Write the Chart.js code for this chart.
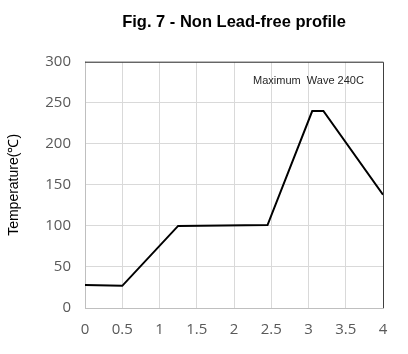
<!DOCTYPE html>
<html>
<head>
<meta charset="utf-8">
<style>
  html, body { margin: 0; padding: 0; background: #fff; }
  #wrap { width: 408px; height: 354px; }
</style>
<script src="https://cdn.jsdelivr.net/npm/chart.js@4/dist/chart.umd.min.js"></script>
</head>
<body>
<div id="wrap"><canvas id="profile"></canvas></div>
<script>
// profile points
const timeValues = [0, 0.5, 1.25, 2.45, 3.05, 3.2, 4];
const tempValues = [28, 27, 100, 101, 240, 240, 138];
const xTicks = [0, 0.5, 1, 1.5, 2, 2.5, 3, 3.5, 4];
const yTicks = [0, 50, 100, 150, 200, 250, 300];
const noteText = 'Maximum  Wave 240C';

const tickFont = { family: 'Open Sans', size: 15 };

// top + right frame lines and the note inside the plot
const framePlugin = {
    id: 'frame',
    afterDraw(chart) {
        const { ctx, chartArea, scales } = chart;
        ctx.save();
        ctx.strokeStyle = '#404040';
        ctx.lineWidth = 1;
        ctx.beginPath();
        ctx.moveTo(chartArea.left, chartArea.top + 0.5);
        ctx.lineTo(chartArea.right + 0.5, chartArea.top + 0.5);
        ctx.lineTo(chartArea.right + 0.5, chartArea.bottom);
        ctx.stroke();

        ctx.font = '11px "Liberation Sans"';
        ctx.fillStyle = '#262626';
        ctx.textAlign = 'center';
        ctx.textBaseline = 'middle';
        ctx.fillText(noteText, scales.x.getPixelForValue(3.0), scales.y.getPixelForValue(277));
        ctx.restore();
    }
};

new Chart(document.getElementById('profile'), {
    type: 'line',
    data: {
        datasets: [{
            data: timeValues.map((t, i) => ({ x: t, y: tempValues[i] })),
            borderColor: '#000',
            borderWidth: 2,
            pointRadius: 0,
            tension: 0,
            fill: false
        }]
    },
    options: {
        responsive: true,
        maintainAspectRatio: false,
        animation: false,
        layout: { padding: { left: 6, right: 25, top: 0, bottom: 0 } },
        plugins: {
            legend: { display: false },
            tooltip: { enabled: false },
            title: {
                display: true,
                fullSize: false,
                text: 'Fig. 7 - Non Lead-free profile',
                color: '#000',
                font: { family: 'Liberation Sans', size: 16.5, weight: 'bold' },
                padding: { top: 13, bottom: 29 }
            }
        },
        scales: {
            x: {
                type: 'linear',
                min: 0,
                max: 4,
                afterBuildTicks(axis) { axis.ticks = xTicks.map(v => ({ value: v })); },
                afterFit(axis) { axis.height = 46; },
                grid: { color: '#d9d9d9', drawTicks: false },
                border: { color: '#bfbfbf' },
                ticks: { color: '#595959', font: tickFont, padding: 13, callback: v => String(v) }
            },
            y: {
                min: 0,
                max: 300,
                afterBuildTicks(axis) { axis.ticks = yTicks.map(v => ({ value: v })); },
                afterFit(axis) { axis.width = 79; },
                grid: { color: '#d9d9d9', drawTicks: false },
                border: { color: '#bfbfbf' },
                ticks: { color: '#595959', font: tickFont, padding: 14 },
                title: {
                    display: true,
                    text: 'Temperature(℃)',
                    color: '#000',
                    font: { family: 'Liberation Sans', size: 14 },
                    padding: { top: 0, bottom: 4 }
                }
            }
        }
    },
    plugins: [framePlugin]
});
</script>
</body>
</html>
